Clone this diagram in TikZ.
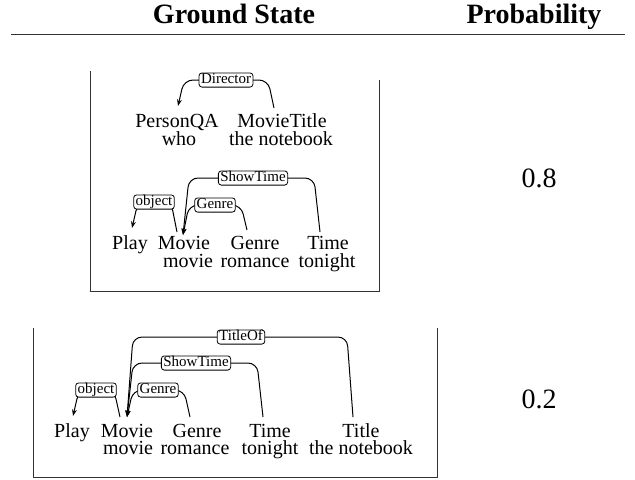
\documentclass[tikz,border=0pt]{standalone}
\usepackage{fontspec}
\setmainfont{Liberation Serif}
\usetikzlibrary{arrows.meta,backgrounds,calc}
\begin{document}
\begin{tikzpicture}[x=0.5pt,y=-0.5pt,
  word/.style={anchor=base,inner sep=0pt,font=\fontsize{10}{12}\selectfont},
  head/.style={anchor=base,inner sep=0pt,font=\fontsize{14}{16}\selectfont\bfseries},
  prob/.style={anchor=base,inner sep=0pt,font=\fontsize{14}{16}\selectfont},
  rel/.style={draw,fill=white,rounded corners=1.5pt,line width=0.4pt,inner xsep=1pt,inner ysep=0.3pt,text height=5pt,text depth=1.5pt,font=\fontsize{7.5}{9}\selectfont},
  dep/.style={line width=0.5pt,rounded corners=4.5pt},
  tip/.style={-{Stealth[length=3.3pt,width=2.4pt]}},
  frame/.style={line width=0.5pt,draw=black!80}
]
\useasboundingbox (0,0) rectangle (635,479);

% header
\node[head] (hgs) at (234,23) {Ground State};
\node[head] (hpr) at (534,23) {Probability};
\coordinate (rl) at (11,34);
\coordinate (rr) at (625,34);
\draw[frame] (rl) -- (rr);

% frames
\coordinate (b1a) at (90,71);
\coordinate (b1b) at (90,291);
\coordinate (b1c) at (379,291);
\coordinate (b1d) at (379,80);
\draw[frame] (b1a) -- (b1b) -- (b1c) -- (b1d);
\coordinate (b2a) at (33,328);
\coordinate (b2b) at (33,477);
\coordinate (b2c) at (437,477);
\coordinate (b2d) at (437,328);
\draw[frame] (b2a) -- (b2b) -- (b2c) -- (b2d);

% probabilities
\node[prob] (p08) at (539,187) {0.8};
\node[prob] (p02) at (539,408) {0.2};

% ---------- parse 1, top ----------
\node[word] (w1pq) at (177,127) {PersonQA};
\node[word] (g1pq) at (179,145) {who};
\node[word] (w1mt) at (282,127) {MovieTitle};
\node[word] (g1mt) at (281,145) {the notebook};
\coordinate (e1pq) at (178,106);
\coordinate (e1mt) at (274,108);
\node[rel] (r1dir) at (226,80) {Director};

% ---------- parse 1, bottom ----------
\node[word] (w1pl) at (130,249) {Play};
\node[word] (w1mv) at (184,249) {Movie};
\node[word] (g1mv) at (188,267) {movie};
\node[word] (w1ge) at (255,249) {Genre};
\node[word] (g1ge) at (255,267) {romance};
\node[word] (w1ti) at (328,249) {Time};
\node[word] (g1ti) at (327,267) {tonight};
\coordinate (e1pl) at (132,228);
\coordinate (e1mvA) at (177,232);
\coordinate (e1mv) at (183,235);
\coordinate (e1ge) at (247,230);
\coordinate (e1ti) at (320,232);
\node[rel] (r1st) at (253,178) {ShowTime};
\node[rel] (r1ob) at (154,202) {object};
\node[rel] (r1gn) at (215,205) {Genre};

% ---------- parse 2 ----------
\node[word] (w2pl) at (72,437) {Play};
\node[word] (w2mv) at (127,437) {Movie};
\node[word] (g2mv) at (128,454) {movie};
\node[word] (w2ge) at (197,437) {Genre};
\node[word] (g2ge) at (195,454) {romance};
\node[word] (w2ti) at (270,437) {Time};
\node[word] (g2ti) at (270,454) {tonight};
\node[word] (w2tl) at (361,437) {Title};
\node[word] (g2tl) at (361,454) {the notebook};
\coordinate (e2pl) at (73,416);
\coordinate (e2mvA) at (120,417);
\coordinate (e2mv) at (127,417);
\coordinate (e2ge) at (190,417);
\coordinate (e2ti) at (263,417);
\coordinate (e2tl) at (353,417);
\node[rel] (r2to) at (241,337) {TitleOf};
\node[rel] (r2st) at (196,363) {ShowTime};
\node[rel] (r2ob) at (96,390) {object};
\node[rel] (r2gn) at (158,390) {Genre};

\begin{scope}[on background layer]
  % parse 1 top
  \draw[dep,tip] (r1dir.center) -- ($(r1dir.center -| e1pq)+(6,0)$) -- (e1pq);
  \draw[dep] (r1dir.center) -- ($(r1dir.center -| e1mt)+(-6,0)$) -- (e1mt);
  % parse 1 bottom
  \draw[dep,tip] (r1st.center) -- ($(r1st.center -| e1mv)+(6,0)$) -- (e1mv);
  \draw[dep] (r1st.center) -- ($(r1st.center -| e1ti)+(-6,0)$) -- (e1ti);
  \draw[dep,tip] (r1ob.center) -- ($(r1ob.center -| e1pl)+(6,0)$) -- (e1pl);
  \draw[dep] (r1ob.center) -- ($(r1ob.center -| e1mvA)+(-6,0)$) -- (e1mvA);
  \draw[dep,tip] (r1gn.center) -- ($(r1gn.center -| e1mv)+(6,0)$) -- (e1mv);
  \draw[dep] (r1gn.center) -- ($(r1gn.center -| e1ge)+(-6,0)$) -- (e1ge);
  % parse 2
  \draw[dep,tip] (r2to.center) -- ($(r2to.center -| e2mv)+(6,0)$) -- (e2mv);
  \draw[dep] (r2to.center) -- ($(r2to.center -| e2tl)+(-6,0)$) -- (e2tl);
  \draw[dep,tip] (r2st.center) -- ($(r2st.center -| e2mv)+(6,0)$) -- (e2mv);
  \draw[dep] (r2st.center) -- ($(r2st.center -| e2ti)+(-6,0)$) -- (e2ti);
  \draw[dep,tip] (r2ob.center) -- ($(r2ob.center -| e2pl)+(6,0)$) -- (e2pl);
  \draw[dep] (r2ob.center) -- ($(r2ob.center -| e2mvA)+(-6,0)$) -- (e2mvA);
  \draw[dep,tip] (r2gn.center) -- ($(r2gn.center -| e2mv)+(6,0)$) -- (e2mv);
  \draw[dep] (r2gn.center) -- ($(r2gn.center -| e2ge)+(-6,0)$) -- (e2ge);
\end{scope}
\end{tikzpicture}
\end{document}
